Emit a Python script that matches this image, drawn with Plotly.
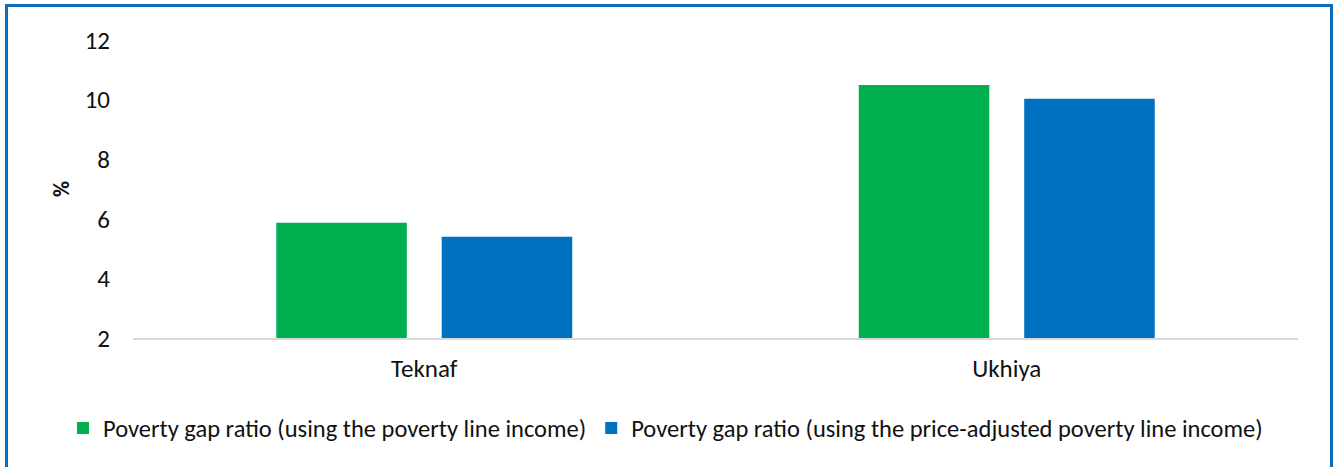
import plotly.graph_objects as go

# Poverty gap ratio by upazila (%)
upazilas = ["Teknaf", "Ukhiya"]
gap_poverty_line = [5.87, 10.49]
gap_price_adjusted = [5.40, 10.03]
series_names = [
    "Poverty gap ratio (using the poverty line income)",
    "Poverty gap ratio (using the price-adjusted poverty line income)",
]
y_ticks = [2, 4, 6, 8, 10, 12]

W, H = 1333, 467
ML, MR, MT, MB = 133, 35, 40, 129
PW, PH = W - ML - MR, H - MT - MB

FONT = "Carlito, Lato, 'Open Sans', sans-serif"
TEXT = "#111111"
FS = 25

fig = go.Figure()
fig.add_trace(go.Bar(x=upazilas, y=gap_poverty_line, name=series_names[0],
                     marker=dict(color="#00B050", line=dict(width=0)), base=0))
fig.add_trace(go.Bar(x=upazilas, y=gap_price_adjusted, name=series_names[1],
                     marker=dict(color="#0070C0", line=dict(width=0)), base=0))


def px_x(px):
    return (px - ML) / PW


def px_y(py):
    return 1 - (py - MT) / PH


fig.update_layout(
    width=W, height=H,
    margin=dict(l=ML, r=MR, t=MT, b=MB, pad=0),
    paper_bgcolor="white", plot_bgcolor="white",
    font=dict(family=FONT, size=FS, color=TEXT),
    barmode="group", bargap=0.432, bargroupgap=0.211,
    showlegend=True,
    legend=dict(orientation="h", x=px_x(63), y=px_y(428),
                xanchor="left", yanchor="middle",
                font=dict(family=FONT, size=24.5, color=TEXT),
                itemwidth=30, tracegroupgap=0, bgcolor="rgba(0,0,0,0)"),
    xaxis=dict(showgrid=False, zeroline=False, showline=True,
               linecolor="#D9D9D9", linewidth=2, ticks="",
               ticklabelstandoff=7,
               tickfont=dict(family=FONT, size=FS, color=TEXT)),
    yaxis=dict(range=[2, 12], tickvals=y_ticks, showgrid=False,
               zeroline=False, showline=False, ticks="",
               ticklabelstandoff=22,
               tickfont=dict(family=FONT, size=FS, color=TEXT),
               title=dict(text="<b>%</b>", standoff=8,
                          font=dict(family=FONT, size=22, color=TEXT))),
    shapes=[dict(type="rect", xref="paper", yref="paper",
                 x0=px_x(6.5), x1=px_x(1331.5), y0=px_y(490), y1=px_y(5.5),
                 line=dict(color="#0A6EBD", width=3),
                 fillcolor="rgba(0,0,0,0)", layer="above")],
)

fig.write_html("out.html")
